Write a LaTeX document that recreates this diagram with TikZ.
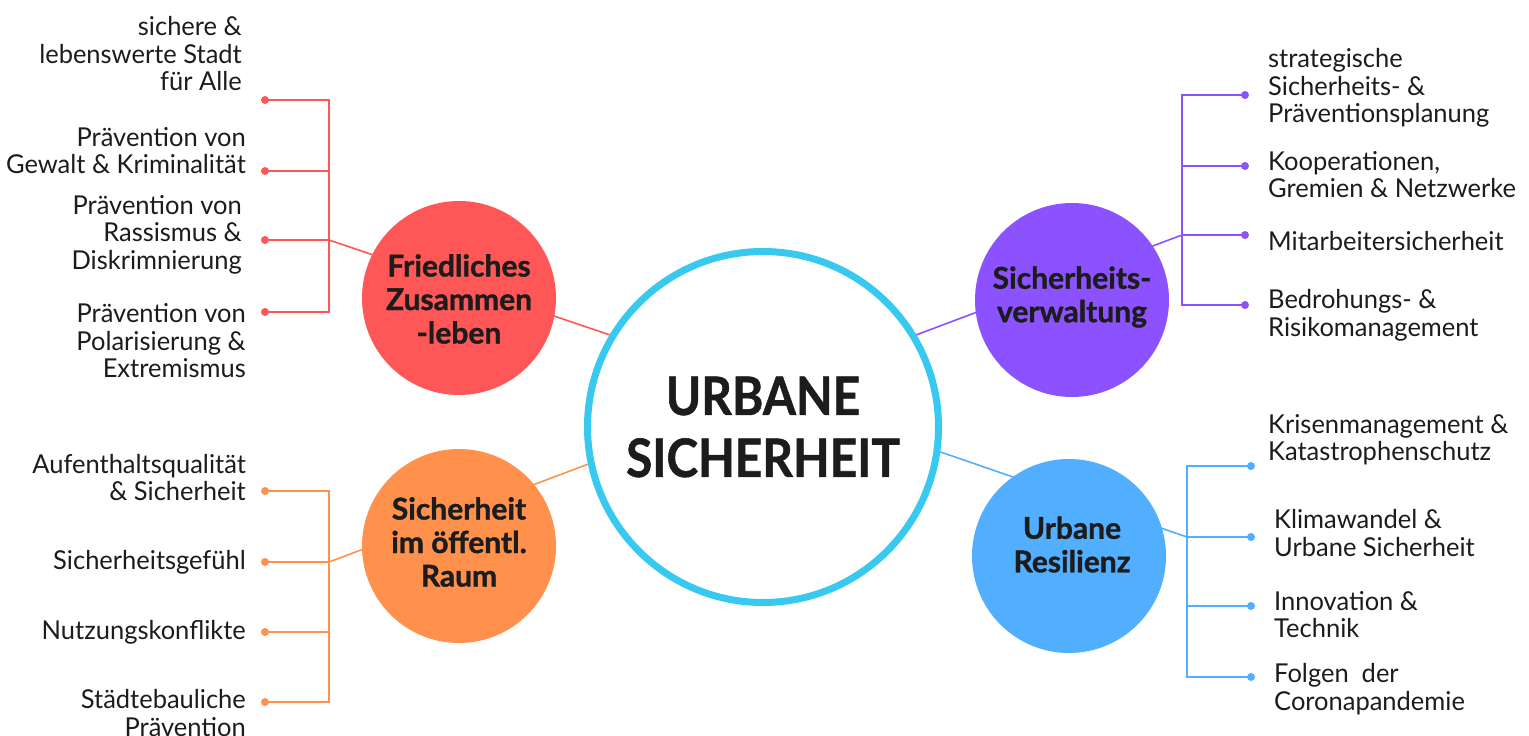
\documentclass[tikz,border=0pt]{standalone}
\usepackage{fontspec}
\setmainfont{Lato}
\newfontfamily\leaffont[FakeStretch=0.98]{Lato}
\newfontfamily\hubfont[FakeStretch=1.0,FakeBold=1.2]{Lato Bold}
\newfontfamily\mainfontc[FakeStretch=0.9,FakeBold=1]{Lato Bold}
\definecolor{cred}{HTML}{FF5757}
\definecolor{corange}{HTML}{FF914D}
\definecolor{cpurple}{HTML}{8C52FF}
\definecolor{cblue}{HTML}{52AEFF}
\definecolor{cring}{HTML}{38C9F0}
\definecolor{ctext}{HTML}{1C1C1C}
\tikzset{
  leafL/.style={anchor=east, align=right, inner sep=0pt, text=ctext, font=\leaffont\fontsize{26}{27.5}\selectfont},
  leafR/.style={anchor=west, align=left, inner sep=0pt, text=ctext, font=\leaffont\fontsize{26}{27.5}\selectfont},
  hub/.style={circle, minimum size=194pt, inner sep=0pt},
  hubtext/.style={align=center, inner sep=0pt, text=ctext, font=\hubfont\fontsize{30}{33.5}\selectfont},
  bracket/.style={line width=2.6pt},
  link/.style={line width=1.6pt},
  dotc/.style={circle, fill, inner sep=0pt, minimum size=8pt},
}
\begin{document}
\begin{tikzpicture}[x=1pt,y=-1pt]
\useasboundingbox (0,0) rectangle (1529,736);
% central
\node[circle, draw=cring, line width=7pt, fill=white, minimum size=351pt, inner sep=0pt,
      align=center, text=ctext, font=\mainfontc\fontsize{53}{62}\selectfont] (c) at (763,427) {URBANE\\SICHERHEIT};
% junctions
\coordinate (jr) at (329,240);
\coordinate (jo) at (329,562);
\coordinate (jp) at (1182,235);
\coordinate (jb) at (1187,537);
\draw[link, cred] (jr) -- (c.149.9);
\draw[link, corange] (jo) -- (c.192.3);
\draw[link, cpurple] (jp) -- (c.31.6);
\draw[link, cblue] (jb) -- (c.-8);
% hubs
\node[hub, fill=cred] (fz) at (459,298) {};
\node[hub, fill=corange] (so) at (459,546) {};
\node[hub, fill=cpurple] (sv) at (1072,300) {};
\node[hub, fill=cblue] (ur) at (1069,556) {};
\node[hubtext] (fzt) at (459,299) {Friedliches\\Zusammen\\-leben};
\node[hubtext] (sot) at (459,542) {Sicherheit\\im öffentl.\\Raum};
\node[hubtext] (svt) at (1072,297) {Sicherheits-\\verwaltung};
\node[hubtext] (urt) at (1072,544.5) {Urbane\\Resilienz};
% red bracket
\foreach \n/\y in {r1/100,r2/171,r3/240,r4/312}{\node[dotc, cred] (\n) at (265,\y) {};}
\draw[bracket, cred] (r1.center) -| (329,312) -- (r4.center);
\draw[bracket, cred] (r2.center) -- (329,171);
\draw[bracket, cred] (r3.center) -- (jr);
% orange bracket
\foreach \n/\y in {o1/491,o2/562,o3/632,o4/702}{\node[dotc, corange] (\n) at (265,\y) {};}
\draw[bracket, corange] (o1.center) -| (329,702) -- (o4.center);
\draw[bracket, corange] (o2.center) -- (jo);
\draw[bracket, corange] (o3.center) -- (329,632);
% purple bracket
\foreach \n/\y in {p1/95,p2/166,p3/235,p4/305}{\node[dotc, cpurple] (\n) at (1245,\y) {};}
\draw[bracket, cpurple] (p1.center) -| (1182,305) -- (p4.center);
\draw[bracket, cpurple] (p2.center) -- (1182,166);
\draw[bracket, cpurple] (p3.center) -- (jp);
% blue bracket
\foreach \n/\y in {b1/466,b2/537,b3/606,b4/677}{\node[dotc, cblue] (\n) at (1251,\y) {};}
\draw[bracket, cblue] (b1.center) -| (1187,677) -- (b4.center);
\draw[bracket, cblue] (b2.center) -- (jb);
\draw[bracket, cblue] (b3.center) -- (1187,606);
% red texts
\node[leafL] (tr1) at (242,53.7) {sichere \&\\lebenswerte Stadt\\für Alle};
\node[leafL] (tr2) at (246,150.5) {Prävention von\\Gewalt \& Kriminalität};
\node[leafL] (tr3) at (242,234.7) {Prävention von\\Rassismus \&\\Diskrimnierung};
\node[leafL] (tr4) at (246,340.7) {Prävention von\\Polarisierung \&\\Extremismus};
% orange texts
\node[leafL] (to1) at (246,477.5) {Aufenthaltsqualität\\\& Sicherheit};
\node[leafL] (to2) at (246,562) {Sicherheitsgefühl};
\node[leafL] (to3) at (246,632) {Nutzungskonflikte};
\node[leafL] (to4) at (246,713) {Städtebauliche\\Prävention};
% purple texts
\node[leafR] (tp1) at (1268,88) {strategische\\Sicherheits- \&\\Präventionsplanung};
\node[leafR] (tp2) at (1268,174.5) {Kooperationen,\\Gremien \& Netzwerke};
\node[leafR] (tp3) at (1268,241) {Mitarbeitersicherheit};
\node[leafR] (tp4) at (1268,315.5) {Bedrohungs- \&\\Risikomanagement};
% blue texts
\node[leafR] (tb1) at (1268,439.5) {Krisenmanagement \&\\Katastrophenschutz};
\node[leafR] (tb2) at (1274,533) {Klimawandel \&\\Urbane Sicherheit};
\node[leafR] (tb3) at (1274,614.5) {Innovation \&\\Technik};
\node[leafR] (tb4) at (1274,689) {Folgen\ \ der\\Coronapandemie};
\end{tikzpicture}
\end{document}
